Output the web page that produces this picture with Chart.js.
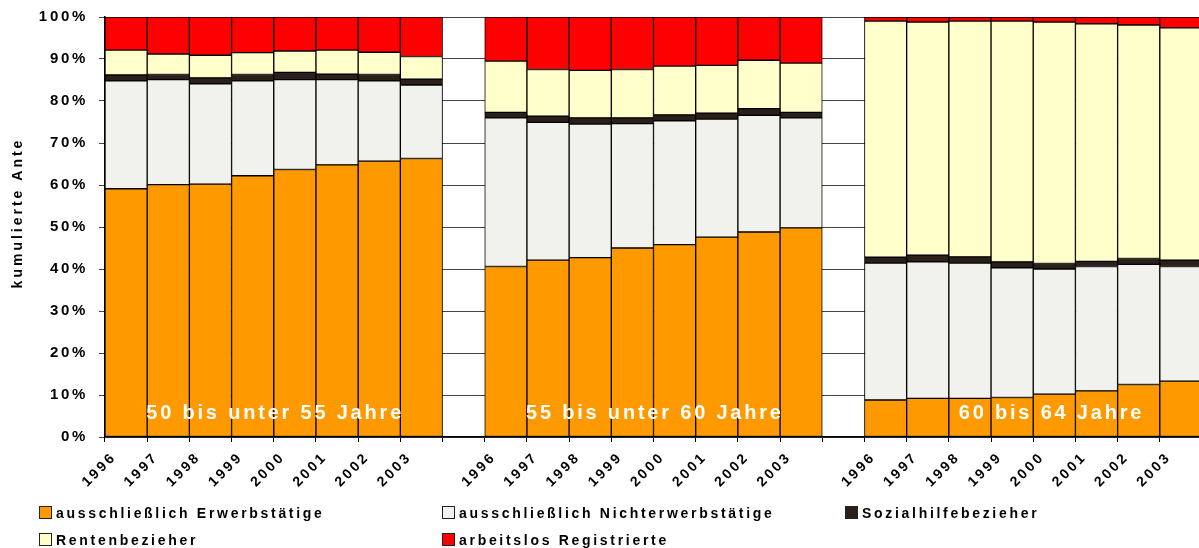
<!DOCTYPE html>
<html>
<head>
<meta charset="utf-8">
<script src="https://cdn.jsdelivr.net/npm/chart.js"></script>
<style>
  html, body { margin: 0; padding: 0; background: #fff; overflow: hidden; }
  #wrap { position: relative; width: 1199px; height: 548px; overflow: hidden; }
  #wrap canvas { position: absolute; left: 0; top: 0; }
  .legend { position: absolute; left: 0; top: 0; font: bold 14px "Liberation Sans", Arial, sans-serif; letter-spacing: 2.7px; color: #000; }
  .legend div { position: absolute; white-space: nowrap; height: 16px; line-height: 16px; }
  .legend span.box { display: inline-block; width: 11px; height: 11px; border: 1px solid #222; vertical-align: -1px; margin-right: 4px; }
</style>
</head>
<body>
<div id="wrap">
  <canvas id="chart" width="1202" height="548" style="width:1202px;height:548px"></canvas>
  <div class="legend" id="legend"></div>
</div>
<script>
  // values, in percent, 8 years per age group
  const years = ["1996", "1997", "1998", "1999", "2000", "2001", "2002", "2003"];
  const groupLabels = ["50 bis unter 55 Jahre", "55 bis unter 60 Jahre", "60 bis 64 Jahre"];

  const erwerbstaetige = [59.1, 60.1, 60.2, 62.2, 63.7, 64.8, 65.7, 66.3,
                          40.6, 42.1, 42.7, 45.0, 45.8, 47.6, 48.8, 49.8,
                          8.8, 9.2, 9.2, 9.4, 10.2, 11.0, 12.5, 13.3];
  const nichterwerbstaetige = [25.7, 25.0, 23.9, 22.6, 21.4, 20.3, 19.1, 17.5,
                               35.4, 32.8, 31.8, 29.6, 29.5, 28.1, 27.8, 26.2,
                               32.6, 32.5, 32.2, 30.9, 29.8, 29.6, 28.6, 27.3];
  const sozialhilfe = [1.4, 1.2, 1.4, 1.5, 1.7, 1.3, 1.5, 1.4,
                       1.3, 1.5, 1.5, 1.4, 1.4, 1.4, 1.6, 1.3,
                       1.4, 1.6, 1.5, 1.4, 1.3, 1.2, 1.4, 1.5];
  const rentenbezieher = [5.9, 4.9, 5.4, 5.2, 5.1, 5.7, 5.3, 5.4,
                          12.2, 11.1, 11.3, 11.5, 11.6, 11.4, 11.5, 11.7,
                          56.2, 55.5, 56.1, 57.3, 57.5, 56.6, 55.6, 55.3];
  const arbeitslos = [7.9, 8.8, 9.1, 8.5, 8.1, 7.9, 8.4, 9.4,
                      10.5, 12.5, 12.7, 12.5, 11.7, 11.5, 10.3, 11.0,
                      1.0, 1.2, 1.0, 1.0, 1.2, 1.6, 1.9, 2.6];

  const yTicks = [0, 10, 20, 30, 40, 50, 60, 70, 80, 90, 100];

  const series = [
    { label: "ausschließlich Erwerbstätige", data: erwerbstaetige, color: "#FF9900" },
    { label: "ausschließlich Nichterwerbstätige", data: nichterwerbstaetige, color: "#F1F2EE" },
    { label: "Sozialhilfebezieher", data: sozialhilfe, color: "#2A2019" },
    { label: "Rentenbezieher", data: rentenbezieher, color: "#FFFFCC" },
    { label: "arbeitslos Registrierte", data: arbeitslos, color: "#FF0000" },
  ];

  // one empty slot between the age groups
  const labels = [];
  const groupSlots = [];
  groupLabels.forEach((g, gi) => {
    const start = labels.length;
    years.forEach((y) => labels.push(y));
    groupSlots.push([start, labels.length - 1]);
    if (gi < groupLabels.length - 1) labels.push("");
  });

  function spread(values) {
    const out = [];
    groupLabels.forEach((g, gi) => {
      for (let i = 0; i < years.length; i++) out.push(values[gi * years.length + i]);
      if (gi < groupLabels.length - 1) out.push(null);
    });
    return out;
  }

  const FONT = "'Liberation Sans', Arial, sans-serif";

  const spacing = {
    id: "spacing",
    beforeUpdate(chart) { chart.ctx.letterSpacing = "2.7px"; },
    beforeDraw(chart) { chart.ctx.letterSpacing = "2.7px"; },
  };

  const groupShift = [0, 0, 0.4];
  const groupText = {
    id: "groupText",
    afterDatasetsDraw(chart) {
      const ctx = chart.ctx;
      const x = chart.scales.x, y = chart.scales.y;
      ctx.save();
      ctx.font = "bold 20px " + FONT;
      ctx.letterSpacing = "2.8px";
      ctx.fillStyle = "#fff";
      ctx.textAlign = "center";
      ctx.textBaseline = "middle";
      groupSlots.forEach((s, i) => {
        const cx = (x.getPixelForValue(s[0]) + x.getPixelForValue(s[1])) / 2 + groupShift[i] * (x.getPixelForValue(1) - x.getPixelForValue(0));
        ctx.fillText(groupLabels[i], cx + 1.4, y.getPixelForValue(5.7));
      });
      ctx.restore();
    },
  };

  const yTitle = {
    id: "yTitle",
    afterDraw(chart) {
      const ctx = chart.ctx;
      ctx.save();
      ctx.font = "bold 14px " + FONT;
      ctx.letterSpacing = "3px";
      ctx.fillStyle = "#000";
      ctx.textAlign = "center";
      ctx.textBaseline = "middle";
      ctx.translate(18, 213);
      ctx.rotate(-Math.PI / 2);
      ctx.fillText("kumulierte Ante", 0, 0);
      ctx.restore();
    },
  };

  new Chart(document.getElementById("chart"), {
    type: "bar",
    data: {
      labels: labels,
      datasets: series.map((s) => ({
        label: s.label,
        data: spread(s.data),
        backgroundColor: s.color,
        borderColor: "#000",
        borderWidth: 1,
        borderSkipped: false,
        barPercentage: 1,
        categoryPercentage: 1,
      })),
    },
    options: {
      responsive: false,
      animation: false,
      events: [],
      layout: { padding: { top: 17, left: 0, right: 0, bottom: 61 } },
      plugins: { legend: { display: false }, tooltip: { enabled: false } },
      scales: {
        x: {
          stacked: true,
          offset: true,
          afterFit(scale) { scale.height = 50; },
          grid: { offset: true, drawOnChartArea: false, color: "#000", tickLength: 5 },
          border: { color: "#000", width: 1.5 },
          ticks: {
            autoSkip: false,
            maxRotation: 45,
            minRotation: 45,
            labelOffset: -12,
            padding: 7,
            color: "#000",
            font: { family: FONT, size: 14, weight: "bold" },
          },
        },
        y: {
          stacked: true,
          min: 0,
          max: 100,
          afterFit(scale) {
            scale.width = 105;
            scale.paddingTop = 0;
            scale.paddingBottom = 0;
          },
          afterBuildTicks(scale) { scale.ticks = yTicks.map((v) => ({ value: v })); },
          grid: { color: "#444", tickLength: 6 },
          border: { color: "#000", width: 1.5 },
          ticks: {
            padding: 11,
            color: "#000",
            font: { family: FONT, size: 15, weight: "bold" },
            callback: (v) => v + "%",
          },
        },
      },
    },
    plugins: [spacing, groupText, yTitle],
  });

  // legend laid out as in the original: three columns, two rows
  const legendPos = [[39, 505], [442, 505], [845, 505], [39, 532], [442, 532]];
  const legend = document.getElementById("legend");
  series.forEach((s, i) => {
    const d = document.createElement("div");
    d.style.left = legendPos[i][0] + "px";
    d.style.top = legendPos[i][1] + "px";
    d.innerHTML = '<span class="box" style="background:' + s.color + '"></span>' + s.label;
    legend.appendChild(d);
  });
</script>
</body>
</html>
